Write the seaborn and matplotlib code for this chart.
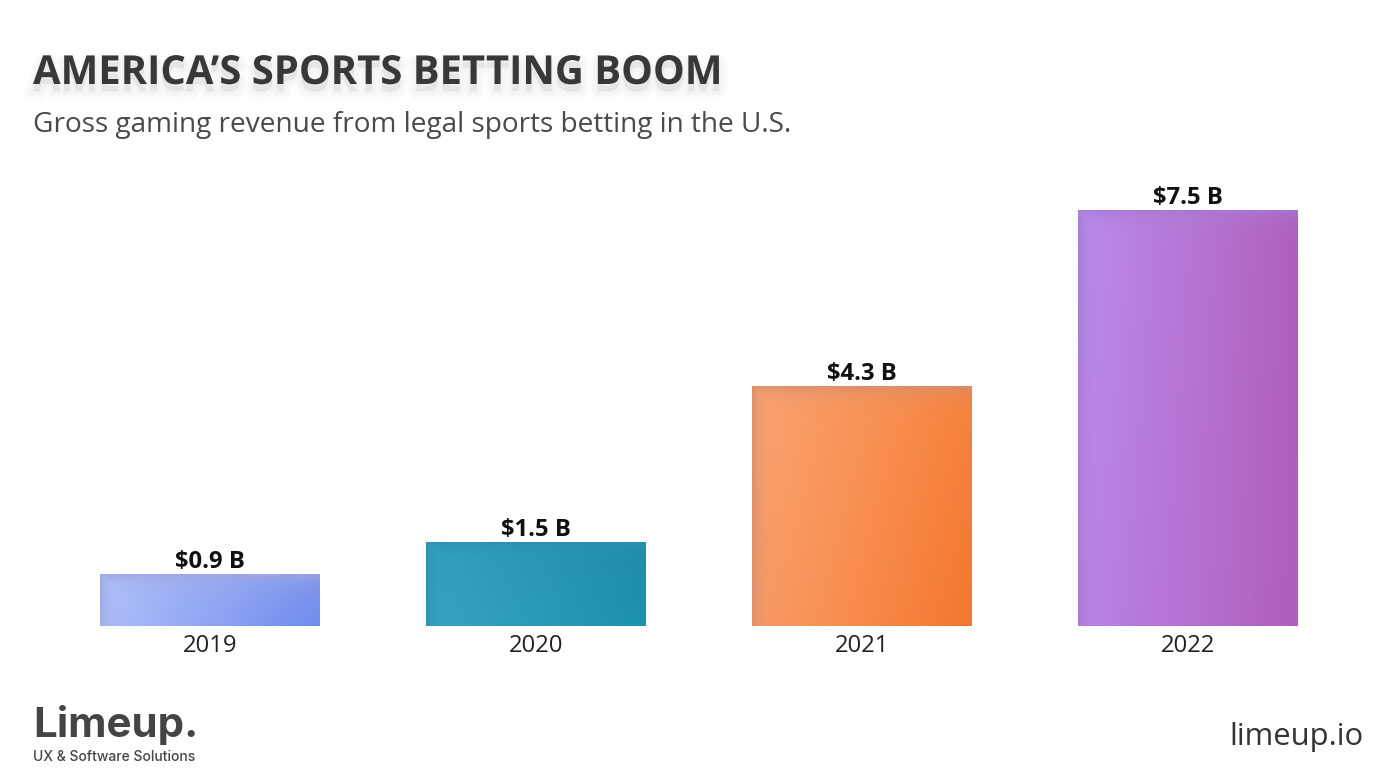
import numpy as np
import pandas as pd
import matplotlib
matplotlib.use('Agg')
import matplotlib.pyplot as plt
import matplotlib.patheffects as pe
from matplotlib.colors import to_rgb
import seaborn as sns

years = ['2019', '2020', '2021', '2022']
revenue = [0.93, 1.51, 4.32, 7.5]
labels = ['$0.9 B', '$1.5 B', '$4.3 B', '$7.5 B']

# colours of each bar: top left, top right, bottom left, bottom right, edge tint
bar_colors = ['#8fa3f0', '#1f9cb8', '#f98f55', '#b673d4']
gradients = [
    ['#b2c2fa', '#7b94ec', '#aebefa', '#6f8cee', '#a0a6e2'],
    ['#33a2c0', '#1e8cab', '#37a5c2', '#1c92ae', '#2f90b4'],
    ['#fba574', '#f6833e', '#fa9c66', '#f4772e', '#d78e6c'],
    ['#bc8cee', '#b060bc', '#ba84e8', '#b05ebb', '#a67ad4'],
]

sns.set_theme(style='white')
plt.rcParams['font.family'] = ['Open Sans', 'DejaVu Sans']

W, H = 1400, 782
fig = plt.figure(figsize=(W / 100, H / 100), dpi=100, facecolor='white')
# axes run the full width, baseline at y=626
ax = fig.add_axes([0, 1 - 626 / H, 1, (626 - 170) / H])

df = pd.DataFrame({'year': years, 'revenue': revenue})
sns.barplot(data=df, x='year', y='revenue', hue='year', palette=bar_colors,
            width=219.5 / 326, legend=False, saturation=1, ax=ax)

ax.set_xlabel('')
ax.set_ylabel('')
ax.set_yticks([])
sns.despine(left=True, bottom=True)
ax.tick_params(axis='x', length=0, pad=6, labelsize=17.2, labelcolor='#222222')


def gradient_image(cols, w, h):
    tl, tr, bl, br, edge = [np.array(to_rgb(c)) for c in cols]
    u, v = np.meshgrid(np.linspace(0, 1, w), np.linspace(0, 1, h))
    u3, v3 = u[..., None], v[..., None]
    img = (1 - v3) * ((1 - u3) * tl + u3 * tr) + v3 * ((1 - u3) * bl + u3 * br)
    # soft darker edge on the left and the top
    px, py = u * w, v * h
    k = 0.85 * np.maximum(np.exp(-px / 8), np.exp(-py / 8))[..., None]
    return (1 - k) * img + k * edge


for bar, cols, label in zip(ax.patches, gradients, labels):
    x, w = bar.get_x(), bar.get_width()
    y, h = bar.get_y(), bar.get_height()
    bar.set_visible(False)
    px_h = max(int(h * 416 / 7.5), 2)
    ax.imshow(gradient_image(cols, 220, px_h), extent=(x, x + w, y, y + h),
              origin='upper', aspect='auto', interpolation='bilinear', zorder=2)
    ax.annotate(label, (x + w / 2, y + h), xytext=(0, 0),
                textcoords='offset points', ha='center', va='bottom',
                fontsize=17.2, fontweight='bold', color='#111111', zorder=3)

ax.set_xlim(-210 / 326, (W - 210) / 326)
ax.set_ylim(0, 456 * 7.5 / 416)

# soft shadow under the heading
shadow = [pe.Stroke(linewidth=lw, foreground='black', alpha=0.007, offset=(0, -5))
          for lw in (13, 11, 9, 7, 5, 3, 1)]
fig.text(33 / W, 1 - 84 / H, 'AMERICA’S SPORTS BETTING BOOM', fontsize=28.8,
         fontweight='bold', color='#383838', ha='left', va='baseline',
         path_effects=shadow + [pe.Normal()])
fig.text(33 / W, 1 - 132 / H, 'Gross gaming revenue from legal sports betting in the U.S.',
         fontsize=20.15, color='#4a4a4a', ha='left', va='baseline')

# footer
fig.text(33 / W, 1 - 737 / H, 'Limeup.', fontsize=30.3, fontweight='bold',
         family=['Inter', 'DejaVu Sans'], color='#444444', ha='left', va='baseline')
fig.text(33 / W, 1 - 761 / H, 'UX & Software Solutions', fontsize=10, fontweight='medium',
         family=['Inter', 'DejaVu Sans'], color='#444444', ha='left', va='baseline')
fig.text(1363 / W, 1 - 745 / H, 'limeup.io', fontsize=22.3, color='#333333',
         ha='right', va='baseline')

fig.savefig('out.png', dpi=100, facecolor='white')
